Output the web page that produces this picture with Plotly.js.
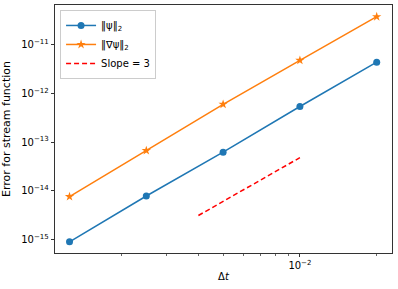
<!DOCTYPE html>
<html>
<head>
<meta charset="utf-8">
<script src="https://cdn.plot.ly/plotly-3.0.1.min.js"></script>
<style>html,body{margin:0;padding:0;background:#fff;}#chart{width:398px;height:289px;}</style>
</head>
<body>
<div id="chart"></div>
<script>
const dt = [0.00125, 0.0025, 0.005, 0.01, 0.02];
const errPsi = [8.9e-16, 7.8e-15, 6.2e-14, 5.4e-13, 4.4e-12];
const errGradPsi = [7.6e-15, 6.7e-14, 6.0e-13, 4.8e-12, 3.8e-11];
const slopeX = [0.004, 0.01];
const slopeY = [3.1e-15, 4.8e-14];
const xMinorTicks = [0.002, 0.003, 0.004, 0.005, 0.006, 0.007, 0.008, 0.009, 0.02];
const xTickVals = [0.01];
const xTickText = ['10<sup>−2</sup>'];
const yTickVals = [1e-15, 1e-14, 1e-13, 1e-12, 1e-11];
const yTickText = ['10<sup>−15</sup>', '10<sup>−14</sup>', '10<sup>−13</sup>', '10<sup>−12</sup>', '10<sup>−11</sup>'];

const font = {family: 'DejaVu Sans', size: 10, color: '#000'};
const traces = [
  {x: dt, y: errPsi, mode: 'lines+markers', name: '‖ψ‖<sub>2</sub>',
   line: {color: '#1f77b4', width: 1.5}, marker: {symbol: 'circle', size: 7, color: '#1f77b4'}},
  {x: dt, y: errGradPsi, mode: 'lines+markers', name: '‖∇ψ‖<sub>2</sub>',
   line: {color: '#ff7f0e', width: 1.5}, marker: {symbol: 'star', size: 7, color: '#ff7f0e'}},
  {x: slopeX, y: slopeY, mode: 'lines', name: 'Slope = 3',
   line: {color: '#ff0000', width: 1.5, dash: '5px,3px'}}
];
const layout = {
  width: 398, height: 289,
  margin: {l: 55, r: 6, t: 5, b: 36},
  paper_bgcolor: '#fff', plot_bgcolor: '#fff',
  font: font,
  showlegend: true,
  legend: {x: 0.015, y: 0.98, xanchor: 'left', yanchor: 'top',
    bgcolor: 'rgba(255,255,255,0.8)', bordercolor: '#ccc', borderwidth: 1,
    font: {family: 'DejaVu Sans', size: 10}, tracegroupgap: 0, itemwidth: 30},
  xaxis: {type: 'log', range: [-2.96, -1.639], showgrid: false, zeroline: false,
    showline: true, mirror: true, linecolor: '#000', linewidth: 0.8,
    ticks: 'outside', ticklen: 3.5, tickwidth: 0.8, tickcolor: '#000',
    tickmode: 'array', tickvals: xTickVals, ticktext: xTickText,
    minor: {tickmode: 'array', tickvals: xMinorTicks, ticks: 'outside', ticklen: 2, tickwidth: 0.6, tickcolor: '#000', showgrid: false},
    title: {text: 'Δ<i>t</i>', font: {family: 'DejaVu Sans', size: 10}, standoff: 2}},
  yaxis: {type: 'log', range: [-15.28, -10.18], showgrid: false, zeroline: false,
    showline: true, mirror: true, linecolor: '#000', linewidth: 0.8,
    ticks: 'outside', ticklen: 3.5, tickwidth: 0.8, tickcolor: '#000',
    tickmode: 'array', tickvals: yTickVals, ticktext: yTickText,
    title: {text: 'Error for stream function', font: {family: 'DejaVu Sans', size: 11}, standoff: 8}}
};
Plotly.newPlot('chart', traces, layout, {displayModeBar: false, staticPlot: true});
</script>
</body>
</html>
